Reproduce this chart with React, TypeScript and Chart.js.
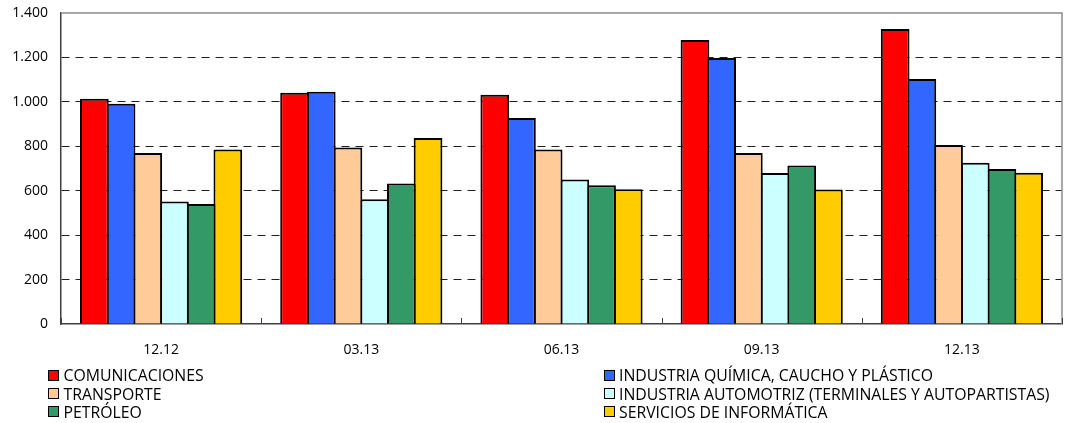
import React, { useEffect, useRef } from "react";
import { Chart, registerables } from "chart.js";

Chart.register(...registerables);

const categories = ["12.12", "03.13", "06.13", "09.13", "12.13"];
const seriesNames = [
  "COMUNICACIONES",
  "INDUSTRIA QUÍMICA, CAUCHO Y PLÁSTICO",
  "TRANSPORTE",
  "INDUSTRIA AUTOMOTRIZ (TERMINALES Y AUTOPARTISTAS)",
  "PETRÓLEO",
  "SERVICIOS DE INFORMÁTICA",
];
const comunicaciones = [1014, 1041, 1032, 1278, 1328];
const quimica = [991, 1046, 927, 1197, 1103];
const transporte = [770, 795, 785, 770, 806];
const automotriz = [552, 562, 651, 680, 726];
const petroleo = [540, 632, 625, 713, 698];
const informatica = [786, 837, 607, 606, 681];
const seriesValues = [comunicaciones, quimica, transporte, automotriz, petroleo, informatica];
const seriesColors = ["#FF0000", "#3366FF", "#FFCC99", "#CCFFFF", "#339966", "#FFCC00"];
const yTicks = [0, 200, 400, 600, 800, 1000, 1200, 1400];

const FONT = "'Open Sans', sans-serif";

const fmt = (v: number) => v.toLocaleString("de-DE");

const framePlugin = {
  id: "frame",
  afterDraw(chart: any) {
    const { ctx, chartArea } = chart;
    const { left, right, top, bottom } = chartArea;
    ctx.save();
    ctx.strokeStyle = "#8c8c8c";
    ctx.lineWidth = 1.5;
    ctx.beginPath();
    ctx.moveTo(left, top);
    ctx.lineTo(right, top);
    ctx.lineTo(right, bottom);
    ctx.stroke();
    const xs = chart.scales.x;
    ctx.strokeStyle = "#404040";
    ctx.lineWidth = 1;
    for (let i = 0; i <= categories.length; i++) {
      const px = Math.round(xs.getPixelForValue(i - 0.5)) + 0.5;
      ctx.beginPath();
      ctx.moveTo(px, bottom);
      ctx.lineTo(px, bottom - 6);
      ctx.stroke();
    }
    ctx.restore();
  },
};

export default function App() {
  const ref = useRef<HTMLCanvasElement>(null);

  useEffect(() => {
    if (!ref.current) return;
    const chart = new Chart(ref.current, {
      type: "bar",
      data: {
        labels: categories,
        datasets: seriesNames.map((name, i) => ({
          label: name,
          data: seriesValues[i],
          backgroundColor: seriesColors[i],
          borderColor: "#000000",
          borderWidth: 2,
          barPercentage: 1.075,
          categoryPercentage: 0.8,
        })),
      },
      options: {
        responsive: false,
        animation: false,
        layout: { padding: { left: 0, right: 13, top: 13, bottom: 0 } },
        plugins: {
          legend: { display: false },
          tooltip: { enabled: false },
        },
        scales: {
          x: {
            grid: { display: false, drawTicks: false },
            border: { display: true, color: "#404040", width: 1.5 },
            ticks: {
              padding: 18,
              color: "#000",
              font: { family: FONT, size: 14 },
            },
            afterFit: (s: any) => {
              s.height = 99;
              s.paddingLeft = 0;
              s.paddingRight = 0;
            },
          },
          y: {
            min: 0,
            max: 1400,
            afterBuildTicks: (s: any) => {
              s.ticks = yTicks.map((v) => ({ value: v }));
            },
            grid: {
              drawTicks: false,
              color: (c: any) =>
                c.tick && (c.tick.value === 0 || c.tick.value === 1400) ? "rgba(0,0,0,0)" : "#202020",
              lineWidth: 1,
            },
            border: { display: true, color: "#404040", width: 1.5, dash: [8, 6] },
            ticks: {
              padding: 13,
              color: "#000",
              font: { family: FONT, size: 14 },
              callback: (v: any) => fmt(Number(v)),
            },
            afterFit: (s: any) => {
              s.width = 61;
              s.paddingTop = 0;
              s.paddingBottom = 0;
            },
          },
        },
      },
      plugins: [framePlugin],
    });
    return () => chart.destroy();
  }, []);

  const colLeft = [48, 603.5];
  const rowCenter = [375, 393.5, 411.5];

  return (
    <div style={{ position: "absolute", left: 0, top: 0, width: 1075, height: 423, background: "#fff" }}>
      <canvas ref={ref} width={1075} height={423} style={{ position: "absolute", left: 0, top: 0 }} />
      {seriesNames.map((name, i) => {
        const col = i % 2;
        const row = Math.floor(i / 2);
        return (
          <div
            key={name}
            style={{
              position: "absolute",
              left: colLeft[col],
              top: rowCenter[row] - 9,
              height: 18,
              display: "flex",
              alignItems: "center",
              whiteSpace: "nowrap",
              fontFamily: FONT,
              fontSize: 15.8,
              color: "#000",
              lineHeight: "18px",
            }}
          >
            <span
              style={{
                display: "inline-block",
                width: 9,
                height: 9,
                border: "1.5px solid #000",
                background: seriesColors[i],
                marginRight: 4.5,
              }}
            />
            <span>{name}</span>
          </div>
        );
      })}
    </div>
  );
}
